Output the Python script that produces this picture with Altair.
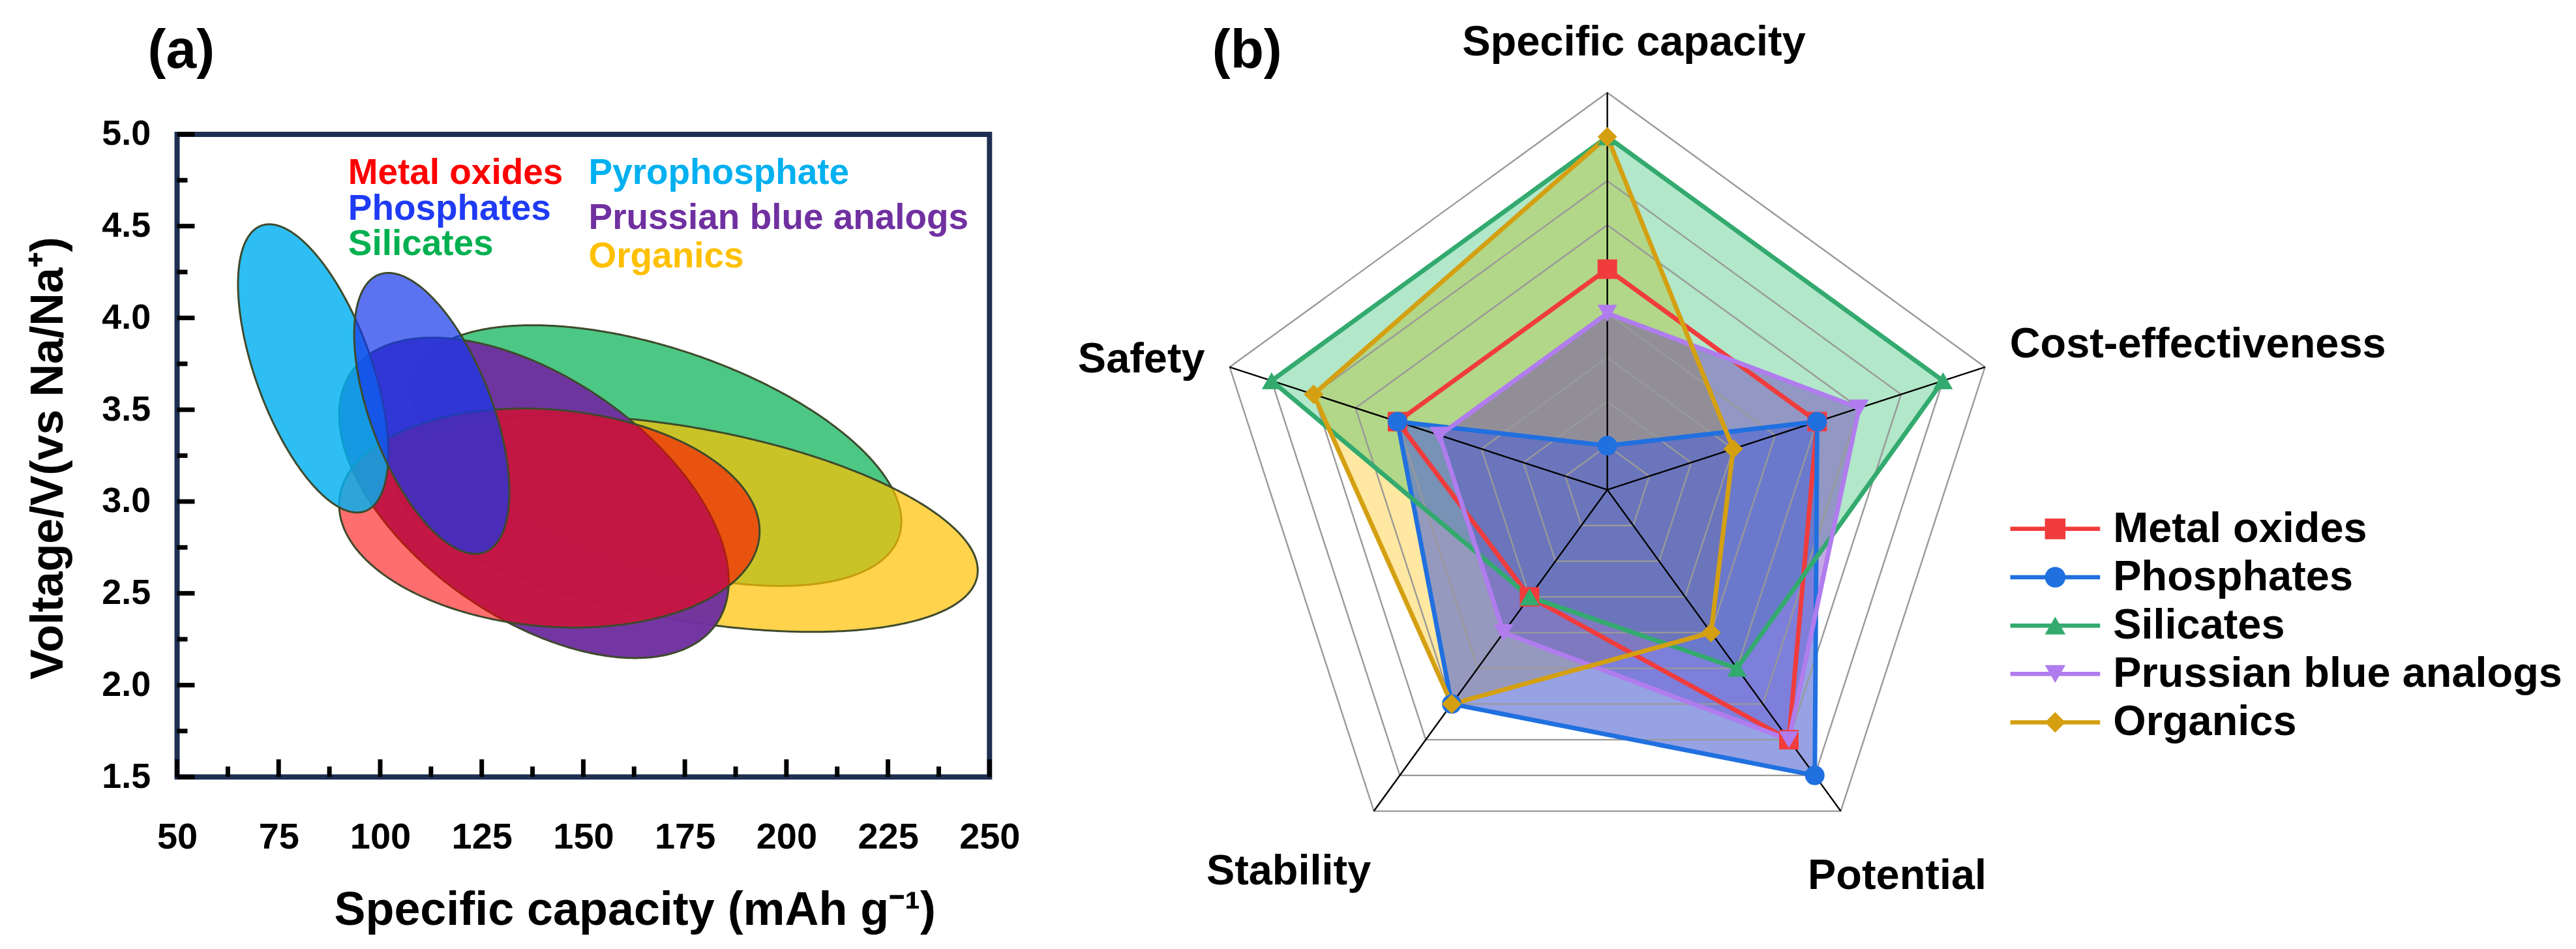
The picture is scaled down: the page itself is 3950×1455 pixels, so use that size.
import numpy as np
import pandas as pd
import altair as alt

FONT = "Liberation Sans"

# ======================= Panel (a) data =======================
# Each region is an ellipse: centre, half extent along capacity, half extent
# along voltage, and capacity offset of its highest point (gives the tilt).
region_names = ["Silicates", "Organics", "Prussian blue analogs",
                "Metal oxides", "Pyrophosphate", "Phosphates"]
region_cx = [168.0, 175.3, 137.85, 141.65, 83.5, 112.7]
region_cy = [3.25, 2.879, 3.02, 2.91, 3.725, 3.48]
region_halfw = [60.3, 71.8, 47.95, 51.75, 18.5, 19.1]
region_halfh = [0.71, 0.589, 0.8725, 0.5965, 0.785, 0.765]
region_topshift = [-30.5, -31.0, -24.9, -6.2, -10.8, -10.7]

label_text = ["Metal oxides", "Phosphates", "Silicates",
              "Pyrophosphate", "Prussian blue analogs", "Organics"]
label_cap = [92.1, 92.1, 92.1, 151.3, 151.3, 151.3]
label_volt = [4.79, 4.594, 4.403, 4.79, 4.545, 4.337]

x_major = [50, 75, 100, 125, 150, 175, 200, 225, 250]
x_minor = [62.5, 87.5, 112.5, 137.5, 162.5, 187.5, 212.5, 237.5]
y_major = [1.5, 2.0, 2.5, 3.0, 3.5, 4.0, 4.5, 5.0]
y_minor = [1.75, 2.25, 2.75, 3.25, 3.75, 4.25, 4.75]

# ======================= Panel (b) data =======================
radar_axes = ["Specific capacity", "Cost-effectiveness", "Potential", "Stability", "Safety"]
radar_series = ["Metal oxides", "Phosphates", "Silicates", "Prussian blue analogs", "Organics"]
metal_oxides = [5, 5, 7, 3, 5]
phosphates = [1, 5, 8, 6, 5]
silicates = [8, 8, 5, 3, 8]
prussian_blue = [4, 6, 7, 4, 4]
organics = [8, 3, 4, 6, 7]
radar_max = 9
radar_rings = [1, 2, 3, 4, 5, 6, 7, 8, 9]

# ======================= styles =======================
REGION_STYLE = {
    "Silicates": ("#00B050", 0.70),
    "Organics": ("#FFC000", 0.70),
    "Prussian blue analogs": ("#7030A0", 0.97),
    "Metal oxides": ("#FF0000", 0.57),
    "Pyrophosphate": ("#00B0F0", 0.82),
    "Phosphates": ("#1538E9", 0.70),
}
LABEL_COLORS = ["#FF0000", "#1F3BF5", "#00B050", "#00B0F0", "#7030A0", "#FFC000"]
OUTLINE = "#3E4A2C"
FRAME = "#1E2F52"

LINE_COLORS = ["#F03C3C", "#2070E0", "#33AA6E", "#B07CEE", "#D4A012"]
SHAPES = ["square", "circle", "triangle-up", "triangle-down", "diamond"]
FILL_STYLE = [  # bottom -> top
    ("Organics", "#FFC000", 0.37),
    ("Silicates", "#00B050", 0.30),
    ("Prussian blue analogs", "#5505B7", 0.35),
    ("Phosphates", "#5064D2", 0.60),
]

# ======================= panel (a) =======================
WA, HA = 1248, 987
PAGE_LEFT, PAGE_TOP = 268, 201     # where panel (a)'s plot area starts on the page
xs = alt.Scale(domain=[50, 250], nice=False, zero=False)
ys = alt.Scale(domain=[1.5, 5.0], nice=False, zero=False)

x_axis = alt.Axis(values=x_major, format="d", ticks=False, tickSize=0, domain=False, grid=False,
                  labelFont=FONT, labelFontSize=56, labelFontWeight="bold", labelColor="black",
                  labelPadding=66, labelFlush=False, labelOverlap=False,
                  title="Specific capacity (mAh g\u207b\u00b9)", titleFont=FONT, titleFontSize=72,
                  titleFontWeight="bold", titleColor="black", titleX=703, titleY=227,
                  titleAlign="center", titleBaseline="alphabetic")
y_axis = alt.Axis(values=y_major, format=".1f", ticks=False, tickSize=0, domain=False, grid=False,
                  labelFont=FONT, labelFontSize=54, labelFontWeight="bold", labelColor="black",
                  labelPadding=41, labelFlush=False, labelOverlap=False,
                  title="Voltage/V(vs Na/Na\u207a)", titleFont=FONT, titleFontSize=70,
                  titleFontWeight="bold", titleColor="black", titleAngle=270,
                  titleX=-176, titleY=497, titleAlign="center", titleBaseline="alphabetic")


def region_outline(cx, cy, w, h, d, n=300):
    t = np.linspace(0.0, np.pi, n)
    dx = -w * np.cos(t)
    root = np.sqrt(np.clip(w * w - dx * dx, 0.0, None))
    k = np.sqrt(w * w - d * d)
    mid = d * h * dx / (w * w)
    half = h * k * root / (w * w)
    return pd.DataFrame({"cap": cx + dx, "vhi": cy + mid + half, "vlo": cy + mid - half})


layers_a = []
# invisible anchor fixing the page's top-left corner (page margin 8 px)
layers_a.append(
    alt.Chart(pd.DataFrame({"t": [""]})).mark_rule(strokeOpacity=0, strokeWidth=1).encode(
        x=alt.value(8 - PAGE_LEFT), x2=alt.value(9 - PAGE_LEFT),
        y=alt.value(8 - PAGE_TOP), y2=alt.value(9 - PAGE_TOP))
)
for name, cx, cy, w, h, d in zip(region_names, region_cx, region_cy, region_halfw,
                                 region_halfh, region_topshift):
    col, op = REGION_STYLE[name]
    layers_a.append(
        alt.Chart(region_outline(cx, cy, w, h, d)).mark_area(
            orient="vertical", fill=col, fillOpacity=op, stroke=OUTLINE, strokeWidth=3,
            strokeJoin="round"
        ).encode(
            x=alt.X("cap:Q", scale=xs, axis=x_axis),
            y=alt.Y("vhi:Q", scale=ys, axis=y_axis),
            y2="vlo:Q",
        )
    )

for vals, ln in [(x_major, 27), (x_minor, 16)]:
    layers_a.append(
        alt.Chart(pd.DataFrame({"v": vals})).mark_rule(color="black", strokeWidth=7).encode(
            x=alt.X("v:Q", scale=xs, axis=x_axis), y=alt.value(HA), y2=alt.value(HA - ln))
    )
for vals, ln in [(y_major, 27), (y_minor, 16)]:
    layers_a.append(
        alt.Chart(pd.DataFrame({"v": vals})).mark_rule(color="black", strokeWidth=7).encode(
            y=alt.Y("v:Q", scale=ys, axis=y_axis), x=alt.value(0), x2=alt.value(ln))
    )

lab_df = pd.DataFrame({"name": label_text, "cap": label_cap, "volt": label_volt})
layers_a.append(
    alt.Chart(lab_df).mark_text(align="left", baseline="middle", font=FONT, fontWeight="bold",
                                fontSize=55).encode(
        x=alt.X("cap:Q", scale=xs, axis=x_axis),
        y=alt.Y("volt:Q", scale=ys, axis=y_axis),
        text="name:N",
        color=alt.Color("name:N", scale=alt.Scale(domain=label_text, range=LABEL_COLORS), legend=None),
    )
)
layers_a.append(
    alt.Chart(pd.DataFrame({"t": ["(a)"]})).mark_text(
        align="left", baseline="middle", font=FONT, fontWeight="bold", fontSize=84, color="black"
    ).encode(x=alt.value(-45), y=alt.value(-127), text="t:N")
)

panel_a = alt.layer(*layers_a).properties(
    width=WA, height=HA, view=alt.ViewBackground(stroke=FRAME, strokeWidth=8))

# ======================= panel (b) =======================
S = 610.0 / 9.0          # pixels per radar unit
CX, CY = 2465.0, 747.0   # radar centre on the page
B_LEFT, B_TOP, WB, HB = 1640.0, 201.0, 2300, 1092
xsb = alt.Scale(domain=[(B_LEFT - CX) / S, (B_LEFT + WB - CX) / S], nice=False, zero=False)
ysb = alt.Scale(domain=[(CY - (B_TOP + HB)) / S, (CY - B_TOP) / S], nice=False, zero=False)


def polar(ch):
    return (ch.transform_calculate(ang="datum.idx * 2 * PI / 5")
              .transform_calculate(px="datum.value * sin(datum.ang)")
              .transform_calculate(py="datum.value * cos(datum.ang)"))


series_vals = [metal_oxides, phosphates, silicates, prussian_blue, organics]
rows = []
for s, vals in zip(radar_series, series_vals):
    for i, v in enumerate(vals):
        rows.append({"series": s, "axis": radar_axes[i], "idx": i, "value": v})
radar_df = pd.DataFrame(rows)

XB = lambda f: alt.X(f, scale=xsb, axis=None)
YB = lambda f: alt.Y(f, scale=ysb, axis=None)

layers_b = []
for s, col, op in FILL_STYLE:
    layers_b.append(
        polar(alt.Chart(radar_df).transform_filter(alt.datum.series == s)).mark_line(
            interpolate="linear-closed", fill=col, fillOpacity=op, strokeOpacity=0, strokeWidth=0
        ).encode(x=XB("px:Q"), y=YB("py:Q"), order="idx:Q")
    )

ring_df = pd.DataFrame([{"ring": r, "idx": i, "value": r} for r in radar_rings for i in range(5)])
layers_b.append(
    polar(alt.Chart(ring_df)).mark_line(interpolate="linear-closed", stroke="#999999",
                                        strokeWidth=2.4).encode(
        x=XB("px:Q"), y=YB("py:Q"), detail="ring:N", order="idx:Q")
)
spoke_df = pd.DataFrame({"idx": list(range(5)), "value": [radar_max] * 5})
layers_b.append(
    polar(alt.Chart(spoke_df)).transform_calculate(zero="0").mark_rule(
        color="black", strokeWidth=2.4).encode(
        x=XB("zero:Q"), y=YB("zero:Q"), x2="px:Q", y2="py:Q")
)

for s, col in zip(radar_series, LINE_COLORS):
    layers_b.append(
        polar(alt.Chart(radar_df).transform_filter(alt.datum.series == s)).mark_line(
            interpolate="linear-closed", stroke=col, strokeWidth=7, strokeJoin="miter"
        ).encode(x=XB("px:Q"), y=YB("py:Q"), order="idx:Q")
    )

color_b = alt.Color("series:N", scale=alt.Scale(domain=radar_series, range=LINE_COLORS), legend=None)
shape_b = alt.Shape("series:N", scale=alt.Scale(domain=radar_series, range=SHAPES), legend=None)
layers_b.append(
    polar(alt.Chart(radar_df)).mark_point(filled=True, size=900, opacity=1).encode(
        x=XB("px:Q"), y=YB("py:Q"), color=color_b, shape=shape_b)
)

# category labels (layout anchors in radar units)
LABEL_POS = {
    "Specific capacity": (0.605, 10.14, "center"),
    "Cost-effectiveness": (9.12, 3.29, "left"),
    "Potential": (4.544, -8.75, "left"),
    "Stability": (-5.356, -8.65, "right"),
    "Safety": (-9.12, 2.95, "right"),
}
for al in ["center", "left", "right"]:
    sub = pd.DataFrame([{"axis": a, "lx": LABEL_POS[a][0], "ly": LABEL_POS[a][1]}
                        for a in radar_axes if LABEL_POS[a][2] == al])
    layers_b.append(
        alt.Chart(sub).mark_text(align=al, baseline="middle", font=FONT, fontWeight="bold",
                                 fontSize=65, color="black").encode(
            x=XB("lx:Q"), y=YB("ly:Q"), text="axis:N")
    )

# legend
LEG_X1, LEG_X2 = (3084 - CX) / S, (3222 - CX) / S
LEG_XM, LEG_XT = (3153 - CX) / S, (3242 - CX) / S
LEG_Y0, LEG_DY = (CY - 807) / S, 74.3 / S
leg_df = pd.DataFrame({"series": radar_series, "row": list(range(len(radar_series)))})


def leg(ch):
    return ch.transform_calculate(
        ly=f"{LEG_Y0} - datum.row * {LEG_DY}", lx1=f"{LEG_X1}", lx2=f"{LEG_X2}",
        lxm=f"{LEG_XM}", lxt=f"{LEG_XT}")


layers_b.append(
    leg(alt.Chart(leg_df)).mark_rule(strokeWidth=6.5).encode(
        x=XB("lx1:Q"), x2="lx2:Q", y=YB("ly:Q"), color=color_b)
)
layers_b.append(
    leg(alt.Chart(leg_df)).mark_point(filled=True, size=1000, opacity=1).encode(
        x=XB("lxm:Q"), y=YB("ly:Q"), color=color_b, shape=shape_b)
)
layers_b.append(
    leg(alt.Chart(leg_df)).mark_text(align="left", baseline="middle", font=FONT,
                                     fontWeight="bold", fontSize=65, color="black").encode(
        x=XB("lxt:Q"), y=YB("ly:Q"), text="series:N")
)
layers_b.append(
    alt.Chart(pd.DataFrame({"t": ["(b)"]})).mark_text(
        align="left", baseline="middle", font=FONT, fontWeight="bold", fontSize=84, color="black"
    ).encode(x=alt.value(218), y=alt.value(-127), text="t:N")
)

panel_b = alt.layer(*layers_b).properties(width=WB, height=HB)

chart = alt.hconcat(panel_a, panel_b, spacing=124, bounds="flush").resolve_scale(
    color="independent", shape="independent"
).properties(
    padding={"left": 0, "top": 0, "right": 5, "bottom": 5},
).configure_view(strokeWidth=0)

chart.save("out.html", embed_options={"renderer": "svg", "actions": False})
